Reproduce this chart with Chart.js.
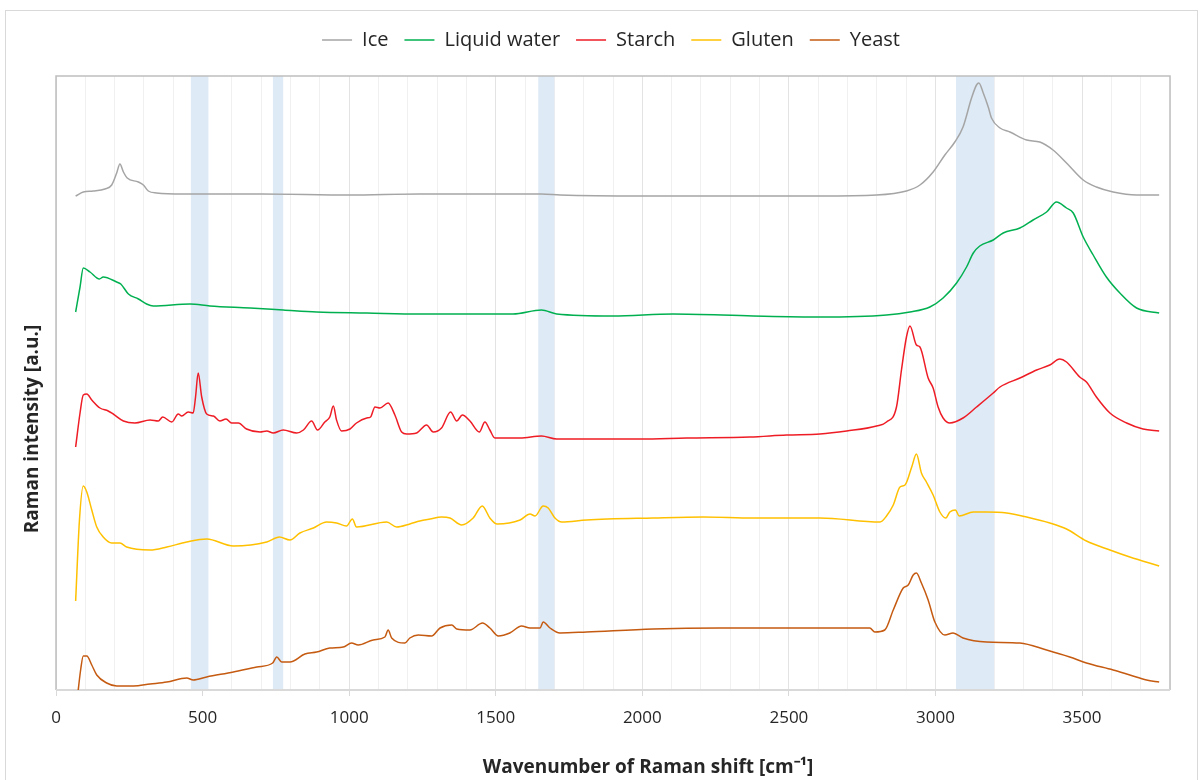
<!DOCTYPE html>
<html>
<head>
<meta charset="utf-8">
<script src="https://cdn.jsdelivr.net/npm/chart.js@4.4.1/dist/chart.umd.min.js"></script>
<style>
  html, body { margin: 0; padding: 0; background: #fff; }
  #wrap { width: 1204px; height: 780px; }
</style>
</head>
<body>
<div id="wrap"><canvas id="chart" width="1204" height="780"></canvas></div>
<script>
// [wavenumber, intensity] pairs (a.u., arbitrary offset per curve)
const ice = [[67,494],[93,498],[127,499],[167,501],[190,505],[207,517],[218,526],[230,518],[243,512],[281,508],[298,505],[315,499],[343,497],[434,496],[700,496],[1000,495],[1240,496],[1500,496],[1656,496],[1720,495],[2000,494],[2300,494],[2606,494],[2799,495],[2901,499],[2947,505],[2992,518],[3032,535],[3066,548],[3094,563],[3123,592],[3140,605],[3148,607],[3163,597],[3180,583],[3191,572],[3220,562],[3254,558],[3311,550],[3356,548],[3401,540],[3447,527],[3504,510],[3549,503],[3606,498],[3686,495],[3763,495]];

const water = [[67,378],[82,403],[93,422],[116,418],[148,411],[161,413],[207,408],[221,406],[247,396],[281,391],[309,386],[332,384],[457,386],[525,384],[662,382],[775,380],[889,378],[1060,377],[1241,376],[1559,376],[1656,380],[1708,376],[1900,374],[2105,376],[2378,374],[2606,373],[2833,375],[2913,378],[2981,383],[3026,392],[3072,407],[3106,423],[3129,437],[3151,444],[3197,450],[3231,457],[3288,462],[3333,470],[3379,478],[3413,488],[3447,482],[3470,477],[3504,453],[3538,435],[3583,413],[3629,397],[3686,382],[3763,377]];

const starch = [[67,243],[82,277],[93,295],[105,296],[122,290],[150,282],[178,279],[195,276],[230,269],[269,267],[321,270],[349,269],[364,273],[395,268],[417,276],[429,274],[451,278],[468,277],[476,293],[485,317],[497,293],[514,276],[537,274],[559,269],[580,271],[599,267],[622,267],[650,261],[696,258],[719,259],[741,257],[775,260],[821,257],[844,260],[872,269],[892,260],[917,268],[934,273],[946,284],[957,270],[974,259],[1003,261],[1025,267],[1060,272],[1073,273],[1088,283],[1105,282],[1133,287],[1156,275],[1179,258],[1196,256],[1230,257],[1264,265],[1287,258],[1315,262],[1346,278],[1367,269],[1386,275],[1412,269],[1444,258],[1463,268],[1480,260],[1497,252],[1583,252],[1656,254],[1708,251],[1810,251],[1992,251],[2151,252],[2367,253],[2492,255],[2606,256],[2697,259],[2799,264],[2833,268],[2867,283],[2884,320],[2901,353],[2913,364],[2935,345],[2947,343],[2975,312],[2992,302],[3009,283],[3026,272],[3049,267],[3094,272],[3140,283],[3197,297],[3220,303],[3288,312],[3345,320],[3390,325],[3424,331],[3447,328],[3492,313],[3515,308],[3549,293],[3595,277],[3652,267],[3708,261],[3763,259]];

const gluten = [[67,89],[80,170],[93,204],[105,198],[122,180],[139,163],[161,153],[190,147],[218,147],[241,143],[321,140],[378,143],[446,148],[514,151],[605,144],[719,148],[762,153],[798,150],[832,157],[878,162],[923,168],[957,167],[991,164],[1011,171],[1025,163],[1128,168],[1162,163],[1207,166],[1241,169],[1276,171],[1315,173],[1344,172],[1384,165],[1423,172],[1454,184],[1480,172],[1505,166],[1583,170],[1617,176],[1634,174],[1662,184],[1679,182],[1702,172],[1725,168],[1810,170],[2037,172],[2208,173],[2378,172],[2606,172],[2811,168],[2833,174],[2856,185],[2879,203],[2896,205],[2919,223],[2935,236],[2952,217],[2969,208],[2992,195],[3015,178],[3035,172],[3049,178],[3068,180],[3081,174],[3129,178],[3174,178],[3243,177],[3311,173],[3390,167],[3447,161],[3515,149],[3595,140],[3663,133],[3763,124]];

const yeast = [[72,-10],[84,20],[93,34],[105,34],[122,25],[139,15],[173,7],[207,4],[264,4],[321,6],[378,8],[446,12],[468,10],[514,13],[605,18],[685,23],[739,27],[753,33],[770,28],[798,28],[849,36],[889,38],[934,42],[980,43],[1008,47],[1031,45],[1082,50],[1122,53],[1133,60],[1145,52],[1190,47],[1207,52],[1236,55],[1281,54],[1310,62],[1350,65],[1367,61],[1412,60],[1455,67],[1480,62],[1509,54],[1548,57],[1588,64],[1617,62],[1651,62],[1662,68],[1685,62],[1719,57],[1810,58],[2037,61],[2265,62],[2492,62],[2606,62],[2776,62],[2793,58],[2827,60],[2856,80],[2890,102],[2907,105],[2924,115],[2935,117],[2952,107],[2975,90],[2998,68],[3032,55],[3060,57],[3094,52],[3174,48],[3288,47],[3379,40],[3458,33],[3515,27],[3606,20],[3663,15],[3720,10],[3763,8]];

// highlighted wavenumber ranges
const bands = [[460,520],[740,775],[1645,1700],[3070,3200]];

const xMin = 0, xMax = 3800, xMajor = 500, xMinor = 100;

const toPts = arr => arr.map(p => ({ x: p[0], y: p[1] }));

const FONT = "'Open Sans', 'Liberation Sans', sans-serif";

// shaded bands, plot frame, outer border and axis titles
const decor = {
  id: 'decor',
  beforeDraw(chart) {
    const c = chart.ctx;
    c.save();
    c.strokeStyle = '#D9D9D9';
    c.lineWidth = 1;
    c.strokeRect(5.5, 10.5, 1192, 800);
    c.restore();
  },
  beforeDatasetsDraw(chart) {
    const c = chart.ctx, a = chart.chartArea, xs = chart.scales.x;
    c.save();
    c.fillStyle = '#DEEAF6';
    bands.forEach(b => {
      const x1 = xs.getPixelForValue(b[0]), x2 = xs.getPixelForValue(b[1]);
      c.fillRect(x1, a.top, x2 - x1, a.bottom - a.top);
    });
    c.strokeStyle = '#BFBFBF';
    c.lineWidth = 1.5;
    c.beginPath();
    c.moveTo(a.left, a.bottom);
    c.lineTo(a.left, a.top);
    c.lineTo(a.right, a.top);
    c.lineTo(a.right, a.bottom);
    c.stroke();
    c.strokeStyle = '#D9D9D9';
    c.lineWidth = 2;
    c.beginPath();
    c.moveTo(a.left, a.bottom);
    c.lineTo(a.right, a.bottom);
    c.stroke();
    c.restore();
  },
  afterDraw(chart) {
    const c = chart.ctx, a = chart.chartArea;
    c.save();
    c.font = "bold 19px " + FONT;
    c.fillStyle = '#262626';
    c.textAlign = 'center';
    c.textBaseline = 'middle';
    c.fillText('Wavenumber of Raman shift [cm⁻¹]', (a.left + a.right) / 2 + 35, 768);
    c.translate(33, (a.top + a.bottom) / 2 + 46);
    c.rotate(-Math.PI / 2);
    c.fillText('Raman intensity [a.u.]', 0, 0);
    c.restore();
  }
};

const mk = (label, arr, color) => ({
  label: label,
  data: toPts(arr),
  borderColor: color,
  backgroundColor: color,
  borderWidth: 1.5,
  pointRadius: 0,
  fill: false,
  cubicInterpolationMode: 'monotone'
});

new Chart(document.getElementById('chart').getContext('2d'), {
  type: 'line',
  data: {
    datasets: [
      mk('Ice', ice, '#A5A5A5'),
      mk('Liquid water', water, '#00B050'),
      mk('Starch', starch, '#EE1C25'),
      mk('Gluten', gluten, '#FFC000'),
      mk('Yeast', yeast, '#C55A11')
    ]
  },
  options: {
    responsive: false,
    animation: false,
    layout: { padding: { left: 52, right: 34, top: 14, bottom: 0 } },
    plugins: {
      legend: {
        position: 'top',
        labels: {
          usePointStyle: true,
          pointStyle: 'line',
          pointStyleWidth: 30,
          padding: 16,
          color: '#262626',
          font: { family: FONT, size: 20 }
        }
      },
      tooltip: { enabled: false }
    },
    scales: {
      x: {
        type: 'linear',
        min: xMin,
        max: xMax,
        afterFit: s => { s.height = 90; },
        ticks: {
          stepSize: xMinor,
          includeBounds: false,
          autoSkip: false,
          maxRotation: 0,
          padding: 12,
          color: '#262626',
          font: { family: FONT, size: 17 },
          callback: v => (v % xMajor === 0 ? String(v) : '')
        },
        grid: {
          color: ctx => (ctx.tick && ctx.tick.value % xMajor === 0 ? '#E3E3E3' : '#F0F0F0'),
          tickColor: ctx => (ctx.tick && ctx.tick.value % xMajor === 0 ? '#D9D9D9' : 'rgba(0,0,0,0)'),
          tickLength: 6,
          lineWidth: 1
        },
        border: { display: false }
      },
      x2: {
        type: 'linear',
        position: 'top',
        display: true,
        afterFit: s => { s.height = 16; },
        ticks: { display: false },
        grid: { display: false },
        border: { display: false }
      },
      y: {
        min: 0,
        max: 614,
        afterFit: s => { s.width = 4; },
        ticks: { display: false },
        grid: { display: false },
        border: { display: false }
      }
    }
  },
  plugins: [decor]
});
</script>
</body>
</html>
